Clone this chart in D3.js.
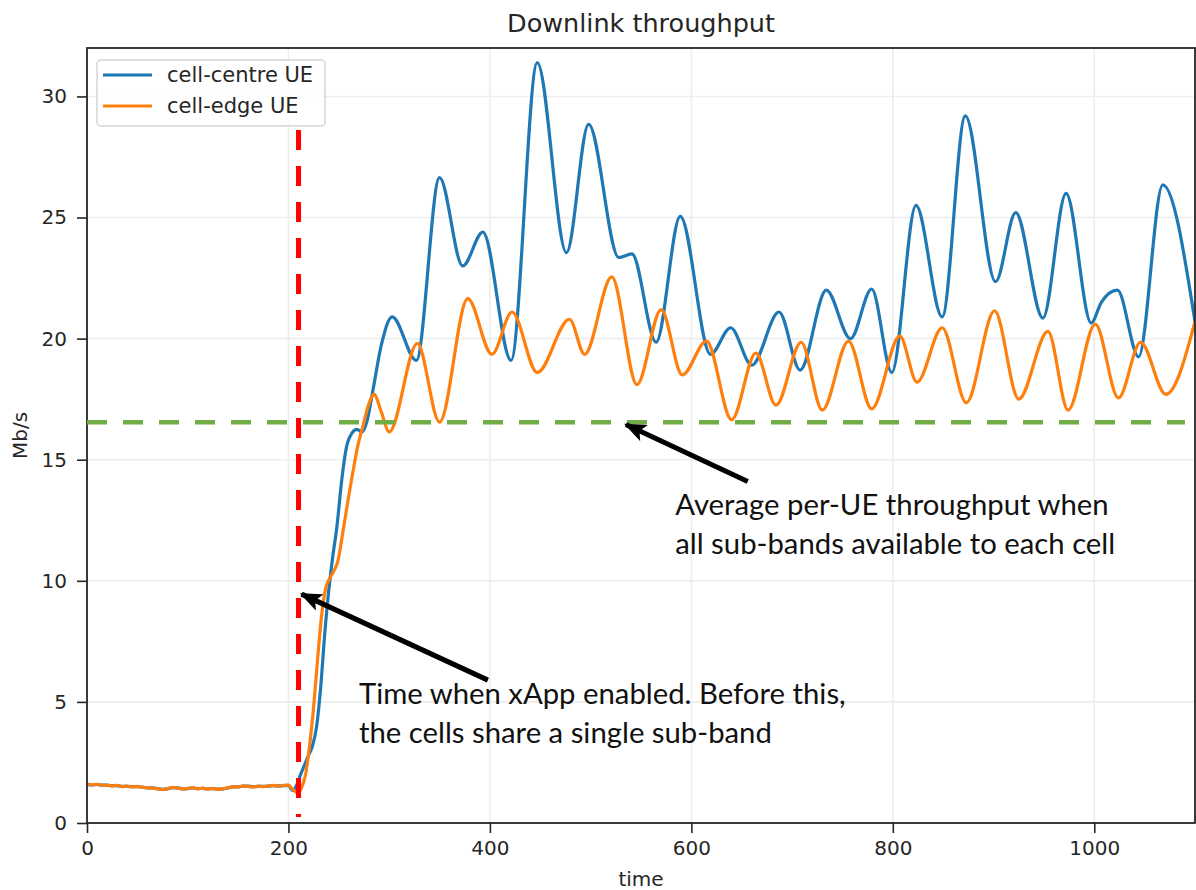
<!DOCTYPE html>
<html>
<head>
<meta charset="utf-8">
<script src="https://cdn.jsdelivr.net/npm/d3@7"></script>
<style>
  body { margin: 0; background: #fff; }
  .tick text { font-family: "DejaVu Sans", sans-serif; fill: #262626; }
</style>
</head>
<body>
<svg id="chart" width="1196" height="890"></svg>
<script>
// values
var flatTime = [0,5,10,15,20,25,30,35,40,45,50,55,60,65,70,75,80,85,90,95,100,
  105,110,115,120,125,130,135,140,145,150,155,160,165,170,175,180,185,190,195,200];

var centreTime = flatTime.concat([204,208,212,216,220,224,228,232,236,240,244,248,253,258,263,268,273,278,284,292,
  303,327,350,373,393,421,447,476,498,528,541,565,589,619,639,660,687,708,734,758,779,799,
  823,849,872,902,922,949,972,997,1007,1023,1044,1068,1100]);
var centreMbps = [1.60,1.57,1.59,1.56,1.56,1.54,1.54,1.51,1.51,1.50,1.50,1.48,1.45,1.45,1.42,1.39,1.41,1.46,1.45,1.41,
  1.42,1.45,1.42,1.43,1.41,1.42,1.40,1.41,1.45,1.49,1.49,1.52,1.52,1.50,1.51,1.51,1.52,1.54,1.53,1.54,1.55,
  1.35,1.55,2.0,2.4,2.8,3.2,4.0,5.6,7.8,9.6,11.0,12.2,14.2,15.6,16.1,16.25,16.15,16.6,17.9,19.7,
  20.9,19.1,26.65,23.0,24.4,19.1,31.4,23.55,28.85,23.35,23.5,19.85,25.05,19.35,20.45,18.9,21.1,18.7,22.0,20.0,22.05,18.6,
  25.5,20.9,29.2,22.35,25.2,20.85,26.0,20.65,21.5,22.0,19.25,26.35,20.7];

var edgeTime = flatTime.concat([204,209,213,217,221,225,229,233,237,241,245,249,254,259,264,269,274,279,285,292,
  300,328,350,378,402,422,447,479,494,521,546,570,591,615,640,664,684,709,730,756,779,
  807,824,849,873,901,925,954,974,1001,1024,1046,1071,1100]);
var edgeMbps = [1.62,1.58,1.60,1.55,1.57,1.53,1.55,1.50,1.52,1.49,1.51,1.47,1.46,1.44,1.41,1.38,1.42,1.47,1.44,1.40,
  1.43,1.46,1.41,1.44,1.40,1.43,1.39,1.42,1.46,1.50,1.48,1.53,1.51,1.49,1.52,1.50,1.53,1.55,1.52,1.55,1.56,
  1.40,1.25,1.45,2.0,3.2,4.8,6.8,8.6,9.7,10.1,10.4,10.8,12.0,13.3,14.5,15.6,16.4,17.2,17.7,17.0,
  16.15,19.8,16.55,21.65,19.35,21.1,18.6,20.8,19.35,22.55,18.1,21.2,18.5,19.9,16.65,19.4,17.25,19.85,17.05,19.9,17.1,
  20.1,18.2,20.45,17.35,21.15,17.5,20.3,17.05,20.6,17.55,19.85,17.7,20.7];

var seriesNames = ["cell-centre UE", "cell-edge UE"];
var seriesColors = ["#1f77b4", "#ff7f0e"];
var xTicks = [0, 200, 400, 600, 800, 1000];
var yTicks = [0, 5, 10, 15, 20, 25, 30];

var xAppTime = 210;        // red marker
var avgThroughput = 16.55; // green reference

var margin = {top: 48, right: 1, bottom: 67, left: 87};
var svg = d3.select("#chart");
var width = 1196 - margin.left - margin.right;
var height = 890 - margin.top - margin.bottom;

var x = d3.scaleLinear().domain([0, 1100]).range([margin.left, margin.left + width]);
var y = d3.scaleLinear().domain([0, 32]).range([margin.top + height, margin.top]);

svg.append("defs").append("clipPath").attr("id", "plot")
  .append("rect").attr("x", margin.left).attr("y", margin.top)
  .attr("width", width).attr("height", height);

// grid
svg.append("g").selectAll("line").data(xTicks).enter().append("line")
  .attr("x1", d => x(d)).attr("x2", d => x(d))
  .attr("y1", margin.top).attr("y2", margin.top + height)
  .attr("stroke", "#ededed").attr("stroke-width", 1.6);
svg.append("g").selectAll("line").data(yTicks).enter().append("line")
  .attr("x1", margin.left).attr("x2", margin.left + width)
  .attr("y1", d => y(d)).attr("y2", d => y(d))
  .attr("stroke", "#ededed").attr("stroke-width", 1.6);

// series
var series = [
  {time: centreTime, values: centreMbps},
  {time: edgeTime, values: edgeMbps}
];
var line = d3.line()
  .x(d => x(d[0]))
  .y(d => y(d[1]))
  .curve(d3.curveMonotoneX);

var lines = svg.append("g").attr("clip-path", "url(#plot)");
series.forEach(function(s, i) {
  lines.append("path")
    .attr("d", line(d3.zip(s.time, s.values)))
    .attr("fill", "none")
    .attr("stroke", seriesColors[i])
    .attr("stroke-width", 3.2)
    .attr("stroke-linejoin", "round");
});

// axes
var xAxis = svg.append("g")
  .attr("transform", `translate(0, ${margin.top + height})`)
  .call(d3.axisBottom(x).tickValues(xTicks).tickFormat(d3.format("d"))
    .tickSize(10).tickPadding(8).tickSizeOuter(0));
var yAxis = svg.append("g")
  .attr("transform", `translate(${margin.left}, 0)`)
  .call(d3.axisLeft(y).tickValues(yTicks).tickSize(10).tickPadding(10).tickSizeOuter(0));
[xAxis, yAxis].forEach(function(a) {
  a.select(".domain").remove();
  a.selectAll(".tick line").attr("stroke", "#262626").attr("stroke-width", 1.6);
  a.selectAll(".tick text").attr("font-size", 20);
});

// frame
svg.append("rect")
  .attr("x", margin.left).attr("y", margin.top)
  .attr("width", width).attr("height", height)
  .attr("fill", "none").attr("stroke", "#262626").attr("stroke-width", 1.8);

// labels
svg.append("text").attr("x", x(550)).attr("y", 32)
  .attr("text-anchor", "middle").attr("font-family", "DejaVu Sans").attr("font-size", 25.5)
  .attr("fill", "#262626").text("Downlink throughput");
svg.append("text").attr("x", x(550)).attr("y", 886)
  .attr("text-anchor", "middle").attr("font-family", "DejaVu Sans").attr("font-size", 20)
  .attr("fill", "#262626").text("time");
svg.append("text")
  .attr("transform", `translate(27, ${y(16)}) rotate(-90)`)
  .attr("text-anchor", "middle").attr("font-family", "DejaVu Sans").attr("font-size", 20)
  .attr("fill", "#262626").text("Mb/s");

// overlays
svg.append("line")
  .attr("x1", x(xAppTime)).attr("x2", x(xAppTime))
  .attr("y1", 130).attr("y2", y(0.25))
  .attr("stroke", "#ff0000").attr("stroke-width", 5).attr("stroke-dasharray", "20,16");
svg.append("line")
  .attr("x1", x(0)).attr("x2", x(1090))
  .attr("y1", y(avgThroughput)).attr("y2", y(avgThroughput))
  .attr("stroke", "#70ad47").attr("stroke-width", 4.5).attr("stroke-dasharray", "20,16");

svg.select("defs").append("marker")
  .attr("id", "head").attr("markerUnits", "userSpaceOnUse")
  .attr("viewBox", "0 0 22 18").attr("refX", 20).attr("refY", 9)
  .attr("markerWidth", 22).attr("markerHeight", 18).attr("orient", "auto")
  .append("path").attr("d", "M0,0 L22,9 L0,18 L5,9 Z").attr("fill", "#000");

var arrows = [
  {from: [656, 14.1], to: [535, 16.45]},
  {from: [398, 5.9], to: [213, 9.45]}
];
svg.append("g").selectAll("line").data(arrows).enter().append("line")
  .attr("x1", d => x(d.from[0])).attr("y1", d => y(d.from[1]))
  .attr("x2", d => x(d.to[0])).attr("y2", d => y(d.to[1]))
  .attr("stroke", "#000").attr("stroke-width", 5)
  .attr("marker-end", "url(#head)");

var notes = [
  {at: [584, 12.7], lines: ["Average per-UE throughput when", "all sub-bands available to each cell"]},
  {at: [270, 4.9], lines: ["Time when xApp enabled. Before this,", "the cells share a single sub-band"]}
];
notes.forEach(function(n) {
  var t = svg.append("text")
    .attr("font-family", "Lato, sans-serif").attr("font-size", 29.3).attr("fill", "#111");
  n.lines.forEach(function(s, i) {
    t.append("tspan").attr("x", x(n.at[0])).attr("y", y(n.at[1]) + i * 38.5).text(s);
  });
});

// legend
var legend = svg.append("g");
legend.append("rect")
  .attr("x", 97).attr("y", 60).attr("width", 228).attr("height", 66).attr("rx", 4)
  .attr("fill", "#fff").attr("fill-opacity", 0.8)
  .attr("stroke", "#d5d5d5").attr("stroke-width", 1.5);
seriesNames.forEach(function(name, i) {
  legend.append("line")
    .attr("x1", 103).attr("x2", 152).attr("y1", 75 + i * 31).attr("y2", 75 + i * 31)
    .attr("stroke", seriesColors[i]).attr("stroke-width", 3.2);
  legend.append("text")
    .attr("x", 167).attr("y", 82 + i * 31)
    .attr("font-family", "DejaVu Sans").attr("font-size", 21).attr("fill", "#262626")
    .text(name);
});
</script>
</body>
</html>
